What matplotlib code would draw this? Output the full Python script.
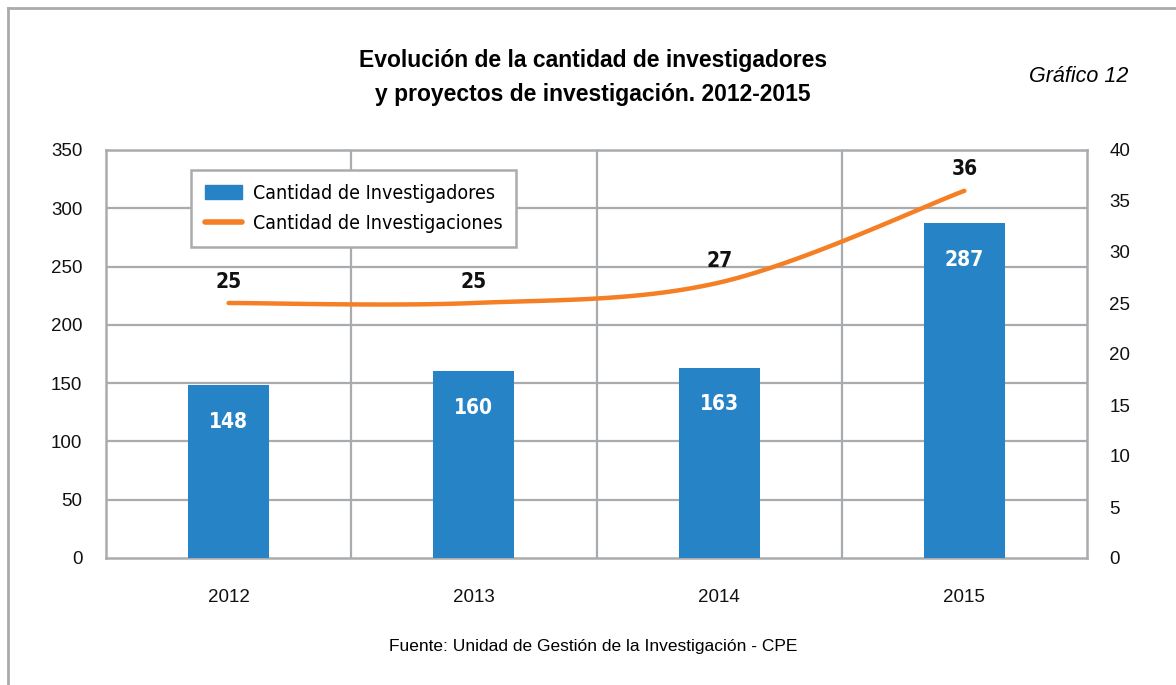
import numpy as np
import matplotlib.pyplot as plt
from matplotlib.lines import Line2D
from matplotlib.patches import Patch

# --- data ---
years = ['2012', '2013', '2014', '2015']
investigadores = [148, 160, 163, 287]
investigaciones = [25, 25, 27, 36]

BLUE = '#2683C6'
ORANGE = '#F47F24'
GRID = '#A9ACAF'
plt.rcParams['font.family'] = ['Liberation Sans', 'DejaVu Sans']
NARROW = ['DejaVu Sans']   # used with stretch='condensed'

fig = plt.figure(figsize=(11.76, 6.85), dpi=100)
W, H = 1176, 685
ax = fig.add_axes([106 / W, 1 - 558 / H, 981 / W, 408 / H])
ax2 = ax.twinx()

x = np.arange(len(years))
ax.bar(x, investigadores, width=0.33, color=BLUE, zorder=3)
ax.set_xlim(-0.5, len(years) - 0.5)
ax.set_ylim(0, 350)
ax.set_yticks(range(0, 351, 50))
ax.set_xticks(x)
ax.set_xticklabels(years)

# grid: horizontal at ticks, vertical at category boundaries
for v in range(50, 351, 50):
    ax.axhline(v, color=GRID, lw=1.6, zorder=1)
for b in x[:-1] + 0.5:
    ax.axvline(b, color=GRID, lw=1.6, zorder=1)
for s in ax.spines.values():
    s.set_color(GRID)
    s.set_linewidth(1.8)
for s in ax2.spines.values():
    s.set_visible(False)

ax.tick_params(length=0, labelsize=13.5, colors='#111111')
ax.tick_params(axis='x', pad=22)
ax.tick_params(axis='y', pad=17)

# bar labels
for xi, v in zip(x, investigadores):
    ax.text(xi, v - 31, str(v), ha='center', va='center', color='white',
            fontsize=15, fontweight='bold', family=NARROW, stretch='condensed', zorder=4)

# smoothed line (Excel-style bezier through the points)
ax2.set_ylim(0, 40)
ax2.set_yticks(range(0, 41, 5))
ax2.tick_params(length=0, labelsize=13.5, pad=16, colors='#111111')
px = np.concatenate([[x[0]], x, [x[-1]]]).astype(float)
py = np.concatenate([[investigaciones[0]], investigaciones, [investigaciones[-1]]]).astype(float)
cx, cy = [], []
t = np.linspace(0, 1, 40)
for i in range(1, len(px) - 2):
    p0 = np.array([px[i], py[i]])
    p3 = np.array([px[i + 1], py[i + 1]])
    c1 = p0 + (p3 - np.array([px[i - 1], py[i - 1]])) / 6
    c2 = p3 - (np.array([px[i + 2], py[i + 2]]) - p0) / 6
    seg = ((1 - t) ** 3)[:, None] * p0 + (3 * (1 - t) ** 2 * t)[:, None] * c1 \
        + (3 * (1 - t) * t ** 2)[:, None] * c2 + (t ** 3)[:, None] * p3
    cx.extend(seg[:, 0])
    cy.extend(seg[:, 1])
ax2.plot(cx, cy, color=ORANGE, lw=3.2, solid_capstyle='round', zorder=5)
for xi, v in zip(x, investigaciones):
    ax2.text(xi, v + 2.1, str(v), ha='center', va='center', color='#111111',
             fontsize=15, fontweight='bold', family=NARROW, stretch='condensed')

# legend
handles = [Patch(color=BLUE),
           Line2D([0], [0], color=ORANGE, lw=4, solid_capstyle='round')]
labels = ['Cantidad de Investigadores', 'Cantidad de Investigaciones']
leg = ax2.legend(handles, labels, loc='upper left', bbox_to_anchor=(85 / 981, 1 - 20 / 408),
                 borderaxespad=0, frameon=True, fancybox=False, edgecolor=GRID, framealpha=1,
                 prop={'family': NARROW, 'size': 14, 'stretch': 'condensed'}, handlelength=1.9,
                 handletextpad=0.6, labelspacing=0.6, borderpad=0.7)
leg.get_frame().set_linewidth(1.8)
leg.set_zorder(10)

# titles and source
fig.text(593 / W, 1 - 61 / H, 'Evolución de la cantidad de investigadores', ha='center', va='center',
         fontsize=16.5, fontweight='bold')
fig.text(593 / W, 1 - 95 / H, 'y proyectos de investigación. 2012-2015', ha='center', va='center',
         fontsize=16.5, fontweight='bold')
fig.text(1128 / W, 1 - 76 / H, 'Gráfico 12', ha='right', va='center', fontsize=15.5, style='italic')
fig.text(593 / W, 1 - 646 / H, 'Fuente: Unidad de Gestión de la Investigación - CPE', ha='center',
         va='center', fontsize=12.5)

# outer frame (top and left edges)
fig.add_artist(Line2D([8 / W, 8 / W], [0, 1 - 8 / H], color=GRID, lw=2, transform=fig.transFigure))
fig.add_artist(Line2D([8 / W, 1], [1 - 8 / H, 1 - 8 / H], color=GRID, lw=2, transform=fig.transFigure))

fig.savefig('out.png', dpi=100)
